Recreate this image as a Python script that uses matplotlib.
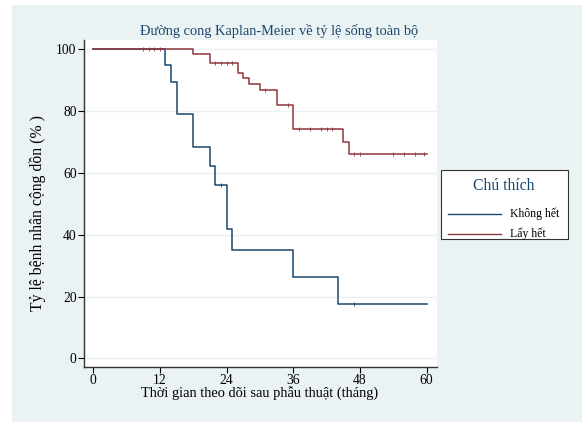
import numpy as np
import matplotlib
matplotlib.use("Agg")
import matplotlib.pyplot as plt
from matplotlib.patches import Rectangle
from matplotlib.lines import Line2D

plt.rcParams['font.family'] = ['Liberation Serif', 'DejaVu Serif']

# ---- data ----
title = "Đường cong Kaplan-Meier về tỷ lệ sống toàn bộ"
xlabel = "Thời gian theo dõi sau phẫu thuật (tháng)"
ylabel = "Tỷ lệ bệnh nhân cộng dồn (% )"
legend_title = "Chú thích"
group_names = ["Không hết", "Lấy hết"]

x_ticks = [0, 12, 24, 36, 48, 60]
y_ticks = [0, 20, 40, 60, 80, 100]

blue_times = [0, 13, 14, 15, 18, 21, 22, 24, 25, 36, 44, 60]
blue_surv = [100, 95.0, 89.5, 79.0, 68.4, 62.2, 56.0, 42.0, 35.0, 26.2, 17.5, 17.5]
blue_cens_t = [23, 47]

red_times = [0, 18, 21, 26, 27, 28, 30, 33, 36, 45, 46, 60]
red_surv = [100, 98.4, 95.7, 92.4, 90.8, 88.9, 86.7, 82.1, 74.1, 69.9, 66.0, 66.0]
red_cens_t = [9, 10, 11, 12, 22, 23, 24, 25, 31, 35, 37, 39, 41, 42, 43,
              47, 48, 54, 56, 58, 59.5]

BLUE = "#1A476F"
RED = "#90353B"
BG = "#EAF2F3"
W, H = 582, 422


def surv_at(times, surv, t):
    idx = np.searchsorted(times, t, side='right') - 1
    return surv[idx]


def fx(px):
    return px / W


def fy(py):
    return 1 - py / H


fig = plt.figure(figsize=(W / 100, H / 100), dpi=100, facecolor='white')
fig.patches.append(Rectangle((fx(12), 0), 1 - fx(12), fy(5),
                             transform=fig.transFigure, facecolor=BG,
                             edgecolor='none', zorder=-10))

ax = fig.add_axes([fx(83.5), fy(367.3), (436.5 - 83.5) / W, (367.3 - 40.0) / H])
ax.set_zorder(5)
ax.set_facecolor('white')
ax.set_xlim(-1.75, 61.8)
ax.set_ylim(-2.9, 103.0)

for y in y_ticks:
    ax.axhline(y, color=BG, lw=1.0, zorder=1)

ax.step(blue_times, blue_surv, where='post', color=BLUE, lw=1.1, zorder=3)
ax.step(red_times, red_surv, where='post', color=RED, lw=1.1, zorder=4)

bt = np.array(blue_times); bs = np.array(blue_surv)
rt = np.array(red_times); rs = np.array(red_surv)
ax.plot(blue_cens_t, [surv_at(bt, bs, t) for t in blue_cens_t], ls='none',
        marker='|', ms=3, mew=0.6, color=BLUE, zorder=3)
ax.plot(red_cens_t, [surv_at(rt, rs, t) for t in red_cens_t], ls='none',
        marker='|', ms=3, mew=0.6, color=RED, zorder=4)

ax.set_xticks(x_ticks)
ax.set_yticks(y_ticks)
ax.tick_params(axis='both', direction='out', length=4, width=0.8,
               labelsize=9.8, colors='black', pad=1)
for s in ['top', 'right']:
    ax.spines[s].set_visible(False)
for s in ['left', 'bottom']:
    ax.spines[s].set_color('#333333')
    ax.spines[s].set_linewidth(1.0)

fig.text(fx(279), fy(35), title, ha='center', va='baseline',
         fontsize=10.4, color=BLUE)
fig.text(fx(260), fy(394), xlabel, ha='center', va='center', fontsize=10.4)
fig.text(fx(38), fy(213), ylabel, ha='center', va='center',
         rotation=90, fontsize=11.3)

# legend (drawn manually to match spacing)
fig.add_artist(Rectangle((fx(441), fy(239)), (567.7 - 441) / W, (239 - 170) / H,
                         transform=fig.transFigure, facecolor='white',
                         edgecolor='#333333', lw=0.8, zorder=6))
fig.text(fx(503.7), fy(186), legend_title, ha='center', va='center',
         fontsize=11.3, color=BLUE, zorder=7)
for i, (name, col) in enumerate(zip(group_names, [BLUE, RED])):
    yy = 214 + i * 20
    fig.add_artist(Line2D([fx(447.7), fx(501)], [fy(yy), fy(yy)],
                          transform=fig.transFigure, color=col, lw=1.0, zorder=7))
    fig.text(fx(510), fy(yy), name, ha='left', va='center', fontsize=8.5, zorder=7)

fig.savefig("out.png", dpi=100, facecolor=fig.get_facecolor())
